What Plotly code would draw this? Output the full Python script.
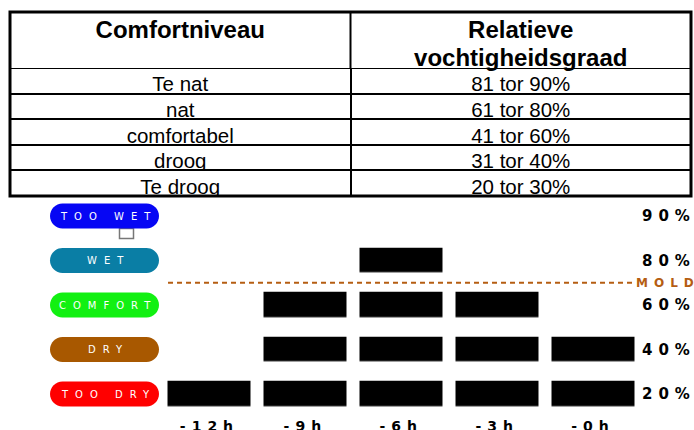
import numpy as np
import plotly.graph_objects as go

# ---------------- data ----------------
table_header_top = ["Comfortniveau", "Relatieve"]
table_header_bottom = ["", "vochtigheidsgraad"]
comfort_levels = ["Te nat", "nat", "comfortabel", "droog", "Te droog"]
humidity_ranges = ["81 tor 90%", "61 tor 80%", "41 tor 60%", "31 tor 40%", "20 tor 30%"]

times = ["-12h", "-9h", "-6h", "-3h", "-0h"]
humidity = [20, 60, 80, 60, 40]
levels = [20, 40, 60, 80, 90]
level_ticks = ["20%", "40%", "60%", "80%", "90%"]
level_names = ["TOO DRY", "DRY", "COMFORT", "WET", "TOO WET"]
level_colors = ["#ff0000", "#a85800", "#12f012", "#0a7ea5", "#0606f4"]
mold_threshold = 70
mold_label = "MOLD"

W, H = 694, 430


def px_x(p):
    return p / W


def px_y(p):
    return 1 - p / H


def spaced(text, sp):
    return f"<span style='letter-spacing:{sp}px'>{text}</span>"


fig = go.Figure()

# ---------------- table ----------------
T_LEFT, T_RIGHT, T_TOP, HEAD_H, ROW_H = 10, 691, 12, 56, 25.6
T_BOTTOM = T_TOP + HEAD_H + ROW_H * len(comfort_levels)
fig.add_trace(go.Table(
    domain=dict(x=[px_x(T_LEFT), px_x(T_RIGHT)], y=[px_y(T_BOTTOM + 1), px_y(T_TOP)]),
    columnwidth=[1, 1],
    header=dict(
        values=[[a, b] for a, b in zip(table_header_top, table_header_bottom)],
        align="center",
        height=HEAD_H / 2,
        fill_color="white",
        line=dict(color="white", width=0),
        font=dict(family="Liberation Sans, Arial, sans-serif", size=24,
                  color="black", weight="bold"),
    ),
    cells=dict(
        values=[comfort_levels, humidity_ranges],
        align="center",
        height=ROW_H,
        fill_color="white",
        line=dict(color="black", width=2),
        font=dict(family="Liberation Sans, Arial, sans-serif", size=20.5, color="black"),
    ),
))

# ---------------- humidity history (block chart) ----------------
idx = list(range(len(levels)))
z = [[1 if h >= lv else None for h in humidity] for lv in levels]
fig.add_trace(go.Heatmap(
    x=times, y=idx, z=z,
    zmin=0, zmax=1,
    colorscale=[[0, "black"], [1, "black"]],
    showscale=False, xgap=13, ygap=19.5,
    hoverinfo="skip",
))

mold_y = float(np.interp(mold_threshold, levels, idx))

shapes = []
# table frame (outer border + header column divider)
shapes.append(dict(
    type="rect", xref="paper", yref="paper",
    x0=px_x(T_LEFT), x1=px_x(T_RIGHT), y0=px_y(T_BOTTOM), y1=px_y(T_TOP),
    line=dict(color="black", width=3), fillcolor="rgba(0,0,0,0)",
))
shapes.append(dict(
    type="line", xref="paper", yref="paper",
    x0=px_x((T_LEFT + T_RIGHT) / 2), x1=px_x((T_LEFT + T_RIGHT) / 2),
    y0=px_y(T_TOP + HEAD_H), y1=px_y(T_TOP),
    line=dict(color="black", width=2),
))

# small marker square under the top pill
shapes.append(dict(
    type="rect", xref="paper", yref="y",
    xsizemode="pixel", ysizemode="pixel",
    xanchor=px_x(104.5), yanchor=idx[-1],
    x0=15, x1=29, y0=-22.5, y1=-12.5,
    fillcolor="white", line=dict(color="#777777", width=1.5),
))

# pills
w, h, r, k = 54.5, 12.5, 12.5, 0.5523
pill = (f"M {-w + r},{-h} L {w - r},{-h} "
        f"C {w - r + k * r},{-h} {w},{-k * r} {w},0 "
        f"C {w},{k * r} {w - r + k * r},{h} {w - r},{h} "
        f"L {-w + r},{h} "
        f"C {-w + r - k * r},{h} {-w},{k * r} {-w},0 "
        f"C {-w},{-k * r} {-w + r - k * r},{-h} {-w + r},{-h} Z")
for i, col in zip(idx, level_colors):
    shapes.append(dict(
        type="path", xref="paper", yref="y",
        xsizemode="pixel", ysizemode="pixel",
        xanchor=px_x(104.5), yanchor=i,
        path=pill, fillcolor=col, line=dict(width=0),
    ))

# mold line
shapes.append(dict(
    type="line", xref="x", yref="y",
    x0=-0.432, x1=len(times) - 1 + 0.432, y0=mold_y, y1=mold_y,
    line=dict(color="#b55d12", width=2, dash="5px,4px"),
))

annotations = []
for i, name in zip(idx, level_names):
    annotations.append(dict(
        xref="paper", yref="y", x=px_x(108), y=i,
        text=spaced(name, 7), showarrow=False,
        font=dict(family="DejaVu Sans, sans-serif", size=10, color="white"),
        xanchor="center", yanchor="middle",
    ))
annotations.append(dict(
    xref="paper", yref="y", x=px_x(634), y=mold_y,
    text=spaced(mold_label, 6), showarrow=False,
    font=dict(family="DejaVu Sans, sans-serif", size=12, color="#b55d12", weight="bold"),
    xanchor="left", yanchor="middle",
))

fig.update_layout(
    width=W, height=H,
    margin=dict(l=0, r=0, t=0, b=0),
    paper_bgcolor="white", plot_bgcolor="white",
    showlegend=False,
    shapes=shapes,
    annotations=annotations,
    xaxis=dict(
        domain=[px_x(161.5), px_x(641)],
        type="category", range=[-0.5, len(times) - 0.5],
        showgrid=False, zeroline=False, showline=False, ticks="",
        tickvals=times, ticktext=[spaced(t, 6) for t in times],
        tickfont=dict(family="DejaVu Sans, sans-serif", size=14, color="black", weight="bold"),
        automargin=False, fixedrange=True,
    ),
    yaxis=dict(
        domain=[px_y(416.25), px_y(193.75)],
        range=[-0.5, len(levels) - 0.5],
        side="right",
        showgrid=False, zeroline=False, showline=False, ticks="",
        tickvals=idx, ticktext=[spaced(t, 6) for t in level_ticks],
        tickfont=dict(family="DejaVu Sans, sans-serif", size=15, color="black", weight="bold"),
        automargin=False, fixedrange=True,
    ),
)

fig.write_html("out.html", config={"displayModeBar": False},
               post_script="document.body.style.margin='0';")
